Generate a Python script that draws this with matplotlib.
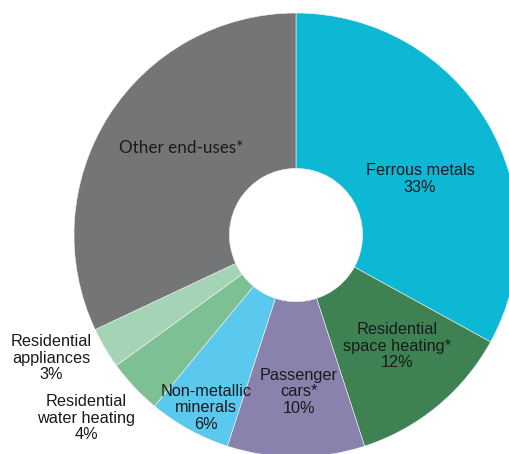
import matplotlib.pyplot as plt

# Share of end-uses (clockwise from 12 o'clock)
categories = ['Ferrous metals', 'Residential\nspace heating*', 'Passenger\ncars*',
              'Non-metallic\nminerals', 'Residential\nwater heating',
              'Residential\nappliances', 'Other end-uses*']
shares = [33, 12, 10, 6, 4, 3, 32]
show_pct = [True, True, True, True, True, True, False]

colors = ['#0db8d5', '#3e8253', '#8882ac', '#5bc8ee', '#7dc093', '#a5d3b5', '#747577']

# label anchor points in pixels of the 510x454 image (centre of text block)
label_px = [(420, 179), (397, 346), (299, 392), (206, 408), (86, 418), (51, 358), (181, 148)]

cx, cy, radius = 296, 235, 222  # pie centre / outer radius in pixels

fig = plt.figure(figsize=(5.1, 4.54), dpi=100)
ax = fig.add_axes([0, 0, 1, 1])

ax.pie(shares, colors=colors, startangle=90, counterclock=False, radius=radius,
       wedgeprops=dict(width=radius * 0.70, edgecolor='#f4f4f4', linewidth=0.4))

for name, val, pct, (px, py) in zip(categories, shares, show_pct, label_px):
    if pct:
        ax.text(px - cx, cy - py, f'{name}\n{val}%', ha='center', va='center',
                fontsize=11.7, family='Liberation Sans', color='#1a1a1a', linespacing=1.1)
    else:
        ax.text(px - cx, cy - py, name, ha='center', va='center',
                fontsize=12.3, family='Lato', color='#1a1a1a')

ax.set_xlim(-cx, 510 - cx)
ax.set_ylim(-(454 - cy), cy)
ax.set_aspect('equal')
ax.axis('off')

fig.savefig('out.png', dpi=100)
